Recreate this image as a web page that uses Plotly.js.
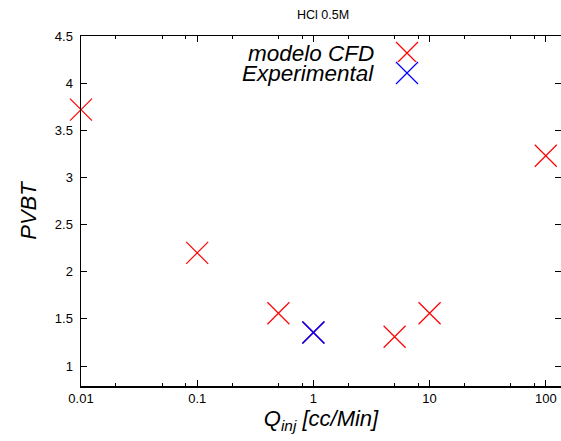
<!DOCTYPE html>
<html>
<head>
<meta charset="utf-8">
<script src="https://cdn.plot.ly/plotly-3.0.1.min.js"></script>
<style>html,body{margin:0;padding:0;background:#fff;}#chart{width:561px;height:441px;}</style>
</head>
<body>
<div id="chart"></div>
<script>
// Data
var cfdQ = [0.01, 0.1, 0.5, 1, 5, 10, 100];
var cfdPVBT = [3.72, 2.2, 1.56, 1.355, 1.31, 1.56, 3.23];
var expQ = [1];
var expPVBT = [1.355];
var seriesNames = ['modelo CFD', 'Experimental'];
var xTickVals = [0.01, 0.1, 1, 10, 100];
var xTickText = ['0.01', '0.1', '1', '10', '100'];
var yTickVals = [1, 1.5, 2, 2.5, 3, 3.5, 4, 4.5];
var yTickText = ['1', '1.5', '2', '2.5', '3', '3.5', '4', '4.5'];

var minorVals = [];
[0.01, 0.1, 1, 10, 100].forEach(function(d){ [2,5,8].forEach(function(m){ minorVals.push(d*m); }); });

var font = 'Liberation Sans, Arial, sans-serif';
var mk = function(c, w){ return {symbol:'x-thin-open', size:22, line:{color:c, width:w || 1.2}, color:c}; };

var traces = [
  {x: cfdQ, y: cfdPVBT, type:'scatter', mode:'markers', name: seriesNames[0], marker: mk('#ff0000'), showlegend:false, cliponaxis:false},
  {x: expQ, y: expPVBT, type:'scatter', mode:'markers', name: seriesNames[1], marker: mk('#0000ff', 1.6), showlegend:false, cliponaxis:false},
  // legend keys
  {x:[0.5], y:[0.5], xaxis:'x2', yaxis:'y2', type:'scatter', mode:'markers', marker: mk('#ff0000'), showlegend:false, hoverinfo:'skip', cliponaxis:false},
  {x:[0.5], y:[0.5], xaxis:'x3', yaxis:'y3', type:'scatter', mode:'markers', marker: mk('#0000ff'), showlegend:false, hoverinfo:'skip', cliponaxis:false}
];

// plot area in pixels
var L = 81, T = 36, PW = 480, PH = 350;
function px(x){ return (x - L) / PW; }
function py(y){ return 1 - (y - T) / PH; }

var layout = {
  width: 561, height: 441,
  margin: {l:L, r:561-L-PW, t:T, b:441-T-PH, pad:0},
  paper_bgcolor:'#fff', plot_bgcolor:'#fff',
  font: {family: font, size: 13, color:'#000'},
  title: {text:'HCl 0.5M', font:{family:font, size:12.5, color:'#000'}, x: 323/561, xanchor:'center', y: 1-15/441, yanchor:'middle'},
  showlegend:false,
  xaxis: {
    type:'log', range:[-2, 2.131],
    tickmode:'array', tickvals: xTickVals, ticktext: xTickText,
    ticks:'inside', ticklen:6, tickwidth:1, tickcolor:'#000',
    minor: {tickmode:'array', tickvals: minorVals, ticks:'inside', ticklen:3, tickwidth:1, tickcolor:'#000'},
    showline:true, linecolor:'#000', linewidth:1.5, mirror:'ticks',
    showgrid:false, zeroline:false,
    tickfont:{family:font, size:13, color:'#000'},
    title:{text:'<i>Q<sub>inj</sub> [cc/Min]</i>', font:{family:font, size:22, color:'#000'}, standoff:4}
  },
  yaxis: {
    range:[0.788, 4.5],
    tickmode:'array', tickvals: yTickVals, ticktext: yTickText,
    ticks:'inside', ticklen:6, tickwidth:1, tickcolor:'#000',
    ticklabelstandoff: 4,
    showline:true, linecolor:'#000', linewidth:1.5, mirror:'ticks',
    showgrid:false, zeroline:false,
    tickfont:{family:font, size:13, color:'#000'},
    title:{text:'<i>PVBT</i>', font:{family:font, size:22, color:'#000'}, standoff:12}
  },
  xaxis2: {domain:[px(396), px(418)], range:[0,1], visible:false, fixedrange:true},
  yaxis2: {domain:[py(64), py(42)], range:[0,1], visible:false, fixedrange:true},
  xaxis3: {domain:[px(396), px(418)], range:[0,1], visible:false, fixedrange:true},
  yaxis3: {domain:[py(84), py(62)], range:[0,1], visible:false, fixedrange:true},
  annotations: [
    {text:'<i>modelo CFD</i>', xref:'paper', yref:'paper', x: px(376), y: py(53), xanchor:'right', yanchor:'middle', showarrow:false, font:{family:font, size:22.5, color:'#000'}},
    {text:'<i>Experimental</i>', xref:'paper', yref:'paper', x: px(376), y: py(74), xanchor:'right', yanchor:'middle', showarrow:false, font:{family:font, size:22.5, color:'#000'}}
  ]
};

Plotly.newPlot('chart', traces, layout, {displayModeBar:false, staticPlot:true});
</script>
</body>
</html>
